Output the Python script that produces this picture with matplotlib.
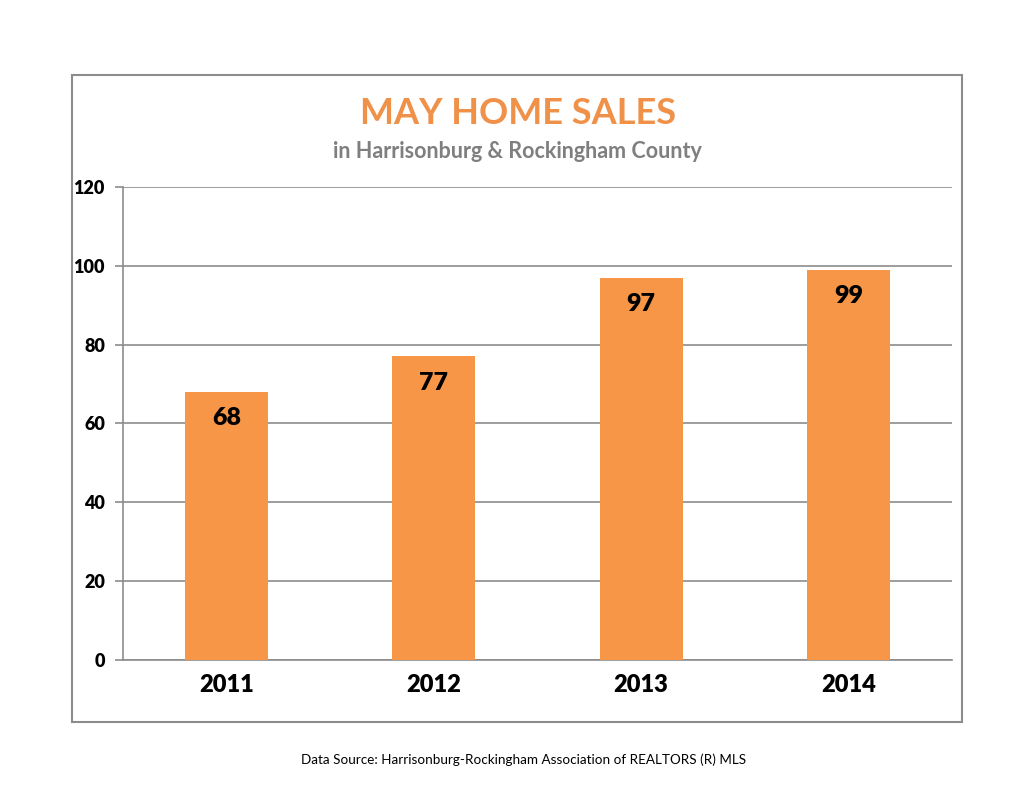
import matplotlib.pyplot as plt
from matplotlib.patches import Rectangle

plt.rcParams['font.family'] = ['Lato', 'DejaVu Sans']

years = ['2011', '2012', '2013', '2014']
sales = [68, 77, 97, 99]
yticks = [0, 20, 40, 60, 80, 100, 120]

bar_color = '#F79646'
grid_color = '#8C8C8C'

fig = plt.figure(figsize=(10.35, 8), dpi=100)
ax = fig.add_axes([123/1035, 1-660/800, (952-123)/1035, (660-187)/800])

x = range(len(years))
ax.bar(x, sales, width=0.4, color=bar_color, zorder=3)
for xi, v in zip(x, sales):
    ax.annotate(str(v), (xi, v), xytext=(0, -19), textcoords='offset points',
                ha='center', va='center', fontsize=18, fontweight='heavy',
                color='black', zorder=4)

ax.set_xlim(-0.5, 3.5)
ax.set_ylim(0, 120)
ax.set_yticks(yticks)
ax.set_xticks(list(x))
ax.set_xticklabels(years, fontsize=17, fontweight='heavy')
ax.set_yticklabels([str(t) for t in yticks], fontsize=13, fontweight='heavy')
ax.yaxis.grid(True, color=grid_color, linewidth=1.2, zorder=0)
ax.tick_params(axis='y', length=6, width=1.2, color=grid_color, pad=7)
ax.tick_params(axis='x', length=0, pad=10)
for s in ['top', 'right']:
    ax.spines[s].set_visible(False)
for s in ['left', 'bottom']:
    ax.spines[s].set_color(grid_color)
    ax.spines[s].set_linewidth(1.2)

fig.text(518/1035, 1-113/800, 'MAY HOME SALES', ha='center', va='center',
         fontsize=26, fontweight='bold', color='#F0914A')
fig.text(517/1035, 1-152/800, 'in Harrisonburg & Rockingham County', ha='center',
         va='center', fontsize=15.5, fontweight='bold', color='#7F7F7F')
fig.text(524/1035, 1-760/800,
         'Data Source: Harrisonburg-Rockingham Association of REALTORS (R) MLS',
         ha='center', va='center', fontsize=9.7, color='black')

box = Rectangle((72/1035, 1-722/800), (962-72)/1035, (722-75)/800,
                transform=fig.transFigure, fill=False, edgecolor='#8C8C8C',
                linewidth=1.5)
fig.patches.append(box)

fig.savefig('out.png', dpi=100, facecolor='white')
